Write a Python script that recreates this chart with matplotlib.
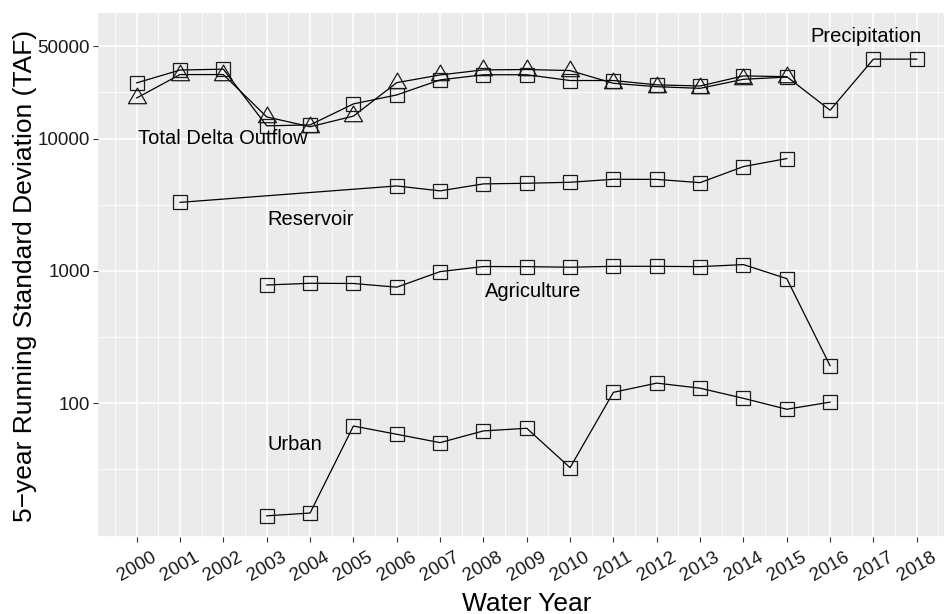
# ----------- Python Package -----------
import matplotlib
matplotlib.use('Agg')
import matplotlib.pyplot as plt
from matplotlib.path import Path
from matplotlib.ticker import FixedLocator, NullFormatter

# ----------- Data -----------
years = list(range(2000, 2019))

precip_years = list(range(2000, 2019))
precip = [26400, 33000, 33500, 12500, 12700, 18300, 21400, 27800, 30400, 30400,
          27500, 27500, 25500, 25000, 29800, 29400, 16400, 39900, 39900]

outflow_years = list(range(2000, 2016))
outflow = [20300, 30500, 30500, 14600, 12300, 14800, 26500, 30300, 33100, 33300,
           32700, 26200, 24700, 24000, 28100, 29200]

reservoir_years = [2001, 2006, 2007, 2008, 2009, 2010, 2011, 2012, 2013, 2014, 2015]
reservoir = [3300, 4390, 4030, 4550, 4600, 4680, 4930, 4920, 4650, 6150, 7070]

agri_years = list(range(2003, 2017))
agri = [783, 807, 804, 754, 988, 1080, 1078, 1067, 1084, 1084, 1078, 1117, 875, 192]

urban_years = list(range(2003, 2017))
urban = [14.1, 14.8, 67.3, 58.3, 50.4, 61.8, 64.7, 32.6, 121, 142, 130, 109, 90.1, 102]

y_breaks = [100, 1000, 10000, 50000]
y_minor = [10 ** 1.0, 10 ** 1.5, 10 ** 2.5, 10 ** 3.5, 10 ** 4.349]

labels = ['Precipitation', 'Total Delta Outflow', 'Reservoir', 'Agriculture', 'Urban']
label_pos = [(2016.82, 58800), (2001.98, 10000), (2004.02, 2450), (2009.15, 700), (2003.66, 49)]

# ----------- Consts -----------
FONT = ['Liberation Sans', 'DejaVu Sans']
plt.rcParams['font.family'] = FONT

# equilateral open triangle centred on its centroid (like ggplot shape 2)
TRIANGLE = Path([(0, 1), (-0.866, -0.5), (0.866, -0.5), (0, 1)],
                [Path.MOVETO, Path.LINETO, Path.LINETO, Path.CLOSEPOLY])

fig = plt.figure(figsize=(9.45, 6.14), dpi=100)
# panel runs past the right edge, like the cropped original
ax = fig.add_axes([0.1034, 0.1246, 0.908, 0.8547])
ax.set_facecolor('#EBEBEB')
for s in ax.spines.values():
    s.set_visible(False)

line_kw = dict(color='black', linewidth=0.9, markerfacecolor='none',
               markeredgecolor='#1a1a1a', markeredgewidth=0.9)

ax.plot(outflow_years, outflow, marker=TRIANGLE, markersize=15, **line_kw)
ax.plot(precip_years, precip, marker='s', markersize=10, **line_kw)
ax.plot(reservoir_years, reservoir, marker='s', markersize=10, **line_kw)
ax.plot(agri_years, agri, marker='s', markersize=10, **line_kw)
ax.plot(urban_years, urban, marker='s', markersize=10, **line_kw)

for text, (x, y) in zip(labels, label_pos):
    ax.text(x, y, text, ha='center', va='center', fontsize=14.5, color='black')

ax.set_yscale('log')
ax.set_xlim(1999.1, 2018.9)
ax.set_ylim(9.67, 89500)

ax.set_xticks(years)
ax.set_xticklabels([str(y) for y in years], rotation=30, ha='center')
ax.xaxis.set_minor_locator(FixedLocator([y + 0.5 for y in range(1999, 2019)]))

ax.yaxis.set_major_locator(FixedLocator(y_breaks))
ax.set_yticklabels([str(b) for b in y_breaks])
ax.yaxis.set_minor_locator(FixedLocator(y_minor))
ax.yaxis.set_minor_formatter(NullFormatter())

ax.tick_params(which='major', length=3.5, width=0.8, color='#333333',
               labelsize=13.5, labelcolor='#1a1a1a', pad=2)
ax.tick_params(axis='x', which='major', pad=4.5)
ax.tick_params(which='minor', length=0)

ax.grid(which='major', color='white', linewidth=1.2)
ax.grid(which='minor', color='white', linewidth=0.6)
ax.set_axisbelow(True)

fig.text(25 / 945, 1 - 276 / 614, '5\u2212year Running Standard Deviation (TAF)',
         rotation=90, ha='center', va='center', fontsize=19)
fig.text(527 / 945, 3.3 / 614, 'Water Year', ha='center', va='baseline', fontsize=19)

fig.savefig('out.png', dpi=100)
